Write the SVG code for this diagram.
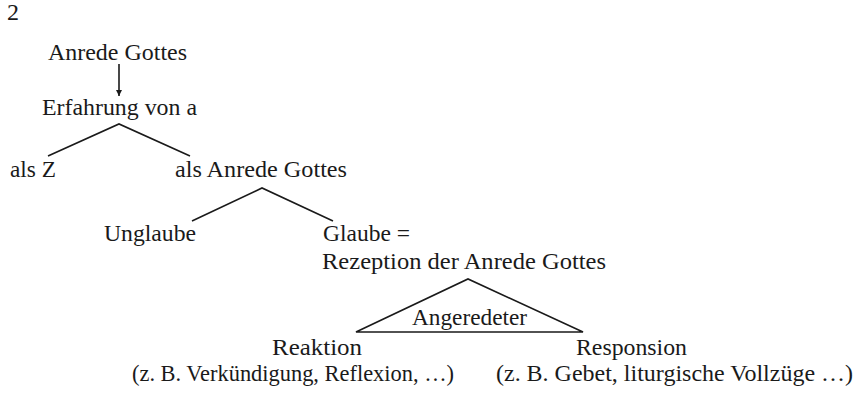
<svg xmlns="http://www.w3.org/2000/svg" width="859" height="397" viewBox="0 0 859 397">
<style>
text{font-family:"Liberation Serif","Times New Roman",serif;font-size:24px;fill:#1a1a1a}
.m{text-anchor:middle}
.s{font-size:23px}
.c{stroke:#1a1a1a;stroke-width:1.6;fill:none}
</style>
<defs>
<marker id="ah" viewBox="0 0 10 10" refX="10" refY="5" markerWidth="6" markerHeight="6" markerUnits="userSpaceOnUse" orient="auto"><path d="M0,0 L10,5 L0,10 z" fill="#1a1a1a"/></marker>
</defs>
<rect width="859" height="397" fill="#fff"/>
<text x="7" y="20" font-size="25">2</text>
<g id="anrede"><text class="m" x="117.5" y="60" textLength="139" lengthAdjust="spacingAndGlyphs">Anrede Gottes</text></g>
<g id="erfahrung"><text class="m" x="119.5" y="115" textLength="155" lengthAdjust="spacingAndGlyphs">Erfahrung von a</text></g>
<g id="alsZ"><text class="m" x="33" y="177" textLength="46" lengthAdjust="spacingAndGlyphs">als Z</text></g>
<g id="alsAnrede"><text class="m" x="261" y="177" textLength="172" lengthAdjust="spacingAndGlyphs">als Anrede Gottes</text></g>
<g id="unglaube"><text class="m" x="150" y="241" textLength="92" lengthAdjust="spacingAndGlyphs">Unglaube</text></g>
<g id="glaube"><text x="323" y="241" textLength="87" lengthAdjust="spacingAndGlyphs">Glaube =</text><text x="322" y="269" textLength="284" lengthAdjust="spacingAndGlyphs">Rezeption der Anrede Gottes</text></g>
<g id="angeredeter"><text class="m" x="469.5" y="325" textLength="115" lengthAdjust="spacingAndGlyphs">Angeredeter</text></g>
<g id="reaktion"><text class="m" x="317" y="355" textLength="90" lengthAdjust="spacingAndGlyphs">Reaktion</text><text class="m s" x="293" y="381" textLength="322" lengthAdjust="spacingAndGlyphs">(z. B. Verkündigung, Reflexion, …)</text></g>
<g id="responsion"><text class="m" x="631.5" y="355" textLength="111" lengthAdjust="spacingAndGlyphs">Responsion</text><text class="m s" x="674.5" y="381" textLength="357" lengthAdjust="spacingAndGlyphs">(z. B. Gebet, liturgische Vollzüge …)</text></g>
<g id="connectors">
<line class="c" x1="119" y1="64" x2="119" y2="96" marker-end="url(#ah)"/>
<polyline class="c" points="48,156 119,124 190,156"/>
<polyline class="c" points="192,221 262,188 333,221"/>
<polygon class="c" points="356,332 468,279 583,332"/>
</g>
</svg>
